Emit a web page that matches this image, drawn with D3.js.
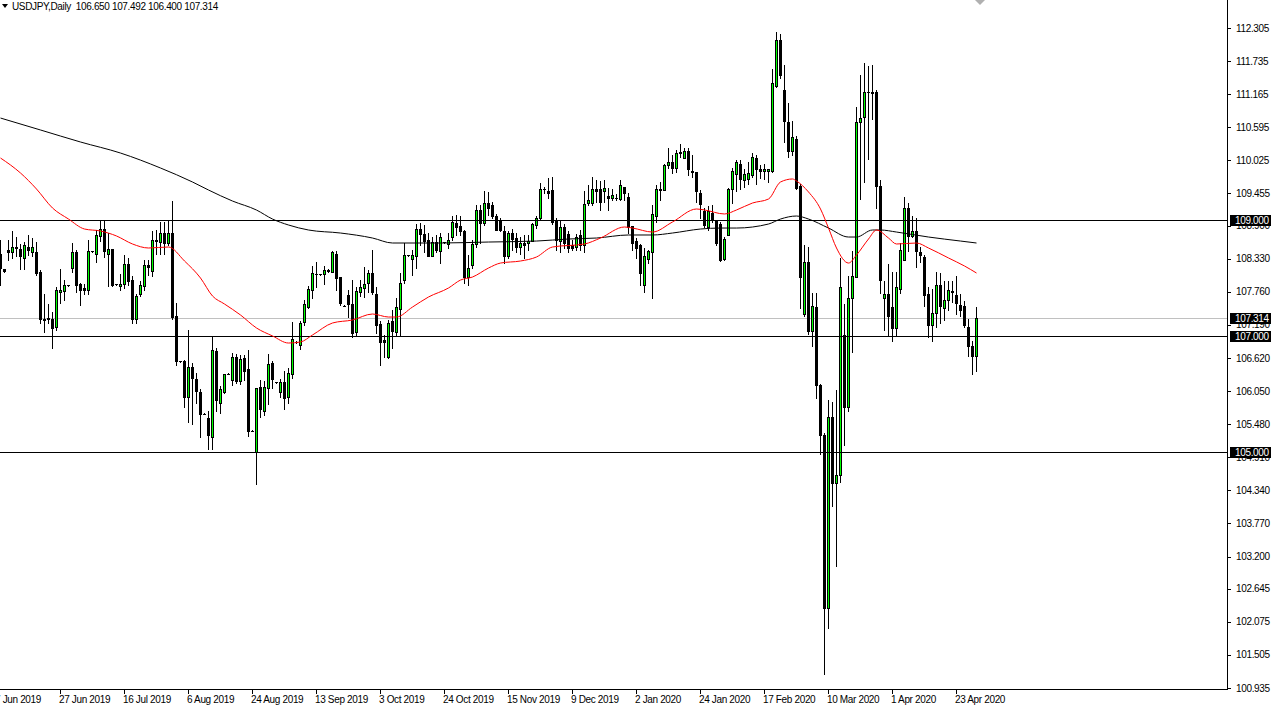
<!DOCTYPE html>
<html><head><meta charset="utf-8">
<script src="https://cdn.jsdelivr.net/npm/d3@7"></script>
<style>
body{margin:0;background:#fff;}
svg{display:block;}
text{font-family:"Liberation Sans",Arial,sans-serif;font-size:10px;letter-spacing:-0.35px;}
</style>
</head><body>
<svg id="chart" width="1273" height="710"></svg>
<script>
// ---------------- DATA ----------------
const symbolTitle = "USDJPY,Daily  106.650 107.492 106.400 107.314";

const opens = [
108.42,108.15,108.48,108.44,108.53,108.49,108.34,108.53,108.45,108.45,
108.10,107.28,107.31,107.29,107.16,107.76,107.78,107.87,108.165,108.45,
107.89,107.82,107.79,108.46,108.41,108.73,108.85,108.42,108.49,107.89,
107.86,107.90,108.24,107.96,107.30,107.72,107.86,108.22,108.125,108.64,
108.62,108.78,108.595,108.77,107.34,106.56,106.56,105.94,106.46,106.26,
106.04,105.66,105.58,105.26,106.74,105.85,106.04,106.35,106.24,106.63,
106.22,106.615,106.43,105.37,105.00,106.12,105.71,106.10,106.53,106.20,
106.03,106.20,105.94,106.35,106.90,106.85,107.24,107.50,107.80,108.07,
108.06,108.07,108.14,108.11,108.42,108.01,107.52,107.71,107.55,107.06,
107.75,107.82,107.92,108.08,107.73,107.20,106.93,106.64,107.26,107.06,
107.46,107.96,108.39,108.33,108.38,108.85,108.76,108.65,108.38,108.61,
108.47,108.61,108.58,108.71,108.95,108.89,108.81,108.02,108.22,108.59,
109.17,108.94,109.29,109.26,109.06,109.00,108.80,108.38,108.77,108.68,
108.54,108.60,108.60,108.64,108.91,109.03,109.54,109.50,109.51,108.98,
108.64,108.87,108.76,108.57,108.54,108.74,108.57,109.29,109.29,109.54,
109.53,109.50,109.41,109.38,109.38,109.36,109.56,109.40,108.90,108.63,
108.57,107.88,108.33,108.45,109.06,109.51,109.51,109.95,109.99,109.89,
110.15,110.07,110.19,109.84,109.83,109.47,109.15,108.88,109.11,108.98,
108.92,108.33,108.74,109.53,109.79,109.97,109.68,109.70,109.78,110.06,
109.88,109.85,109.85,109.85,111.31,112.09,111.24,110.68,110.19,110.39,
109.58,107.37,108.28,107.09,107.50,106.15,105.30,102.32,105.61,104.47,
104.60,107.01,105.77,107.65,108.02,110.68,110.77,111.21,111.20,111.20,
109.59,107.66,107.72,107.50,107.14,107.81,108.31,109.20,108.73,108.80,
108.44,108.36,107.73,107.19,107.39,107.88,107.48,107.62,107.75,107.70,
107.53,107.52,107.16,106.83,106.650];

const highs = [
108.65,108.16,108.65,108.81,108.70,108.59,108.61,108.74,108.68,108.62,
108.14,107.73,107.55,107.42,107.85,108.16,107.96,107.88,108.60,108.48,
107.91,107.90,108.65,108.47,108.82,109.00,109.00,108.77,108.50,107.90,
108.06,108.39,108.35,108.03,107.73,107.94,108.31,108.30,108.80,108.82,
108.96,108.96,109.00,109.32,107.57,106.57,106.58,107.10,106.53,106.36,
106.09,105.67,105.70,106.99,106.79,106.13,106.35,106.36,106.70,106.69,
106.67,106.67,106.75,105.38,106.11,106.24,106.22,106.69,106.56,106.21,
106.26,106.40,106.44,107.24,106.92,107.25,107.62,107.86,108.21,108.28,
108.07,108.20,108.15,108.46,108.47,108.02,107.53,107.79,107.96,107.85,
107.96,108.19,108.14,108.48,107.85,107.25,107.02,107.28,107.45,107.65,
108.08,108.60,108.40,108.48,108.93,108.94,108.91,108.77,108.71,108.74,
108.77,108.62,108.77,109.06,109.08,109.06,108.83,108.40,108.65,109.26,
109.26,109.49,109.48,109.31,109.10,109.03,108.89,108.80,108.84,108.77,
108.71,108.74,108.74,108.94,109.06,109.63,109.57,109.72,109.74,109.03,
108.98,108.93,108.80,108.65,108.75,108.83,109.49,109.60,109.73,109.69,
109.67,109.69,109.55,109.54,109.44,109.69,109.57,109.47,108.90,108.68,
108.59,108.51,108.48,109.26,109.60,109.66,109.97,110.23,110.12,110.20,
110.30,110.23,110.23,110.12,109.83,109.51,109.20,109.23,109.26,108.98,
108.96,108.71,109.55,109.89,110.03,110.03,109.87,109.99,110.15,110.12,
109.94,109.97,109.88,111.60,112.23,112.21,111.67,111.02,110.71,110.44,
109.61,108.57,108.53,107.74,107.74,106.18,105.32,105.89,105.86,106.07,
108.35,107.55,108.04,108.46,110.95,111.50,111.71,111.65,111.67,111.24,
109.68,107.95,108.24,108.10,108.10,108.60,109.40,109.29,109.07,109.03,
108.53,108.39,107.84,107.81,108.10,108.08,107.95,107.95,107.95,108.04,
107.73,107.61,107.30,106.91,107.492];

const lows = [
107.88,108.11,108.31,108.35,108.37,108.16,108.16,108.39,108.37,108.05,
107.22,107.06,107.22,106.79,107.10,107.56,107.62,107.86,108.11,107.76,
107.53,107.73,107.73,108.45,108.28,108.64,108.36,107.86,107.86,107.88,
107.79,107.82,107.88,107.22,107.22,107.68,107.79,108.05,108.03,108.42,
108.42,108.42,108.57,107.29,106.50,106.55,105.78,105.52,105.49,105.84,
105.26,105.65,105.06,105.06,105.70,105.68,106.01,106.34,106.15,106.19,
106.17,106.24,105.27,105.36,104.45,105.60,105.64,105.83,106.10,106.19,
105.94,105.75,105.85,106.27,106.88,106.77,107.19,107.48,107.65,107.85,
108.05,107.90,108.10,108.10,107.79,107.53,107.51,107.33,106.99,107.02,
107.68,107.67,107.76,107.73,107.05,106.50,106.64,106.62,106.79,107.02,
107.02,107.91,108.38,108.05,108.17,108.57,108.45,108.37,108.37,108.45,
108.25,108.60,108.51,108.65,108.74,108.74,107.91,107.88,108.17,108.54,
108.60,108.91,109.08,109.03,108.82,108.81,108.25,108.34,108.48,108.45,
108.42,108.34,108.48,108.63,108.86,109.02,109.46,109.37,108.92,108.48,
108.45,108.51,108.45,108.48,108.48,108.48,108.45,109.26,109.26,109.31,
109.17,109.31,109.17,109.34,109.34,109.34,109.34,108.77,108.48,108.34,
107.88,107.76,108.25,107.65,108.97,109.34,109.51,109.89,109.80,109.83,
110.09,110.06,109.77,109.74,109.31,109.03,108.88,108.83,108.97,108.57,
108.29,108.30,108.74,109.29,109.50,109.53,109.56,109.61,109.74,109.61,
109.72,109.70,109.65,109.83,111.29,111.45,110.34,110.08,110.12,109.54,
107.48,107.34,107.03,106.83,105.93,104.96,101.17,101.97,104.07,103.04,
104.49,105.12,105.71,106.72,108.02,109.36,109.65,110.05,110.73,109.20,
107.74,107.10,107.01,106.91,107.01,107.74,108.30,108.46,108.71,108.18,
108.28,107.51,106.98,106.91,107.16,107.23,107.27,107.45,107.59,107.37,
107.34,107.16,106.65,106.35,106.400];

const closes = [
108.17,108.12,108.45,108.53,108.51,108.38,108.57,108.48,108.53,108.09,
107.30,107.30,107.30,107.13,107.79,107.80,107.87,107.87,108.44,107.87,
107.80,107.79,108.46,108.46,108.74,108.85,108.46,108.49,107.88,107.89,
107.90,108.24,107.95,107.30,107.68,107.87,108.22,108.18,108.65,108.65,
108.78,108.595,108.77,107.33,106.56,106.56,105.94,106.46,106.27,106.06,
105.66,105.66,105.29,106.76,105.90,106.08,106.34,106.35,106.63,106.23,
106.61,106.40,105.37,105.37,106.10,105.74,106.12,106.51,106.25,106.20,
106.20,105.93,106.37,106.95,106.90,107.23,107.55,107.81,108.08,108.06,
108.06,108.14,108.12,108.45,108.00,107.56,107.52,107.55,107.05,107.78,
107.84,107.89,108.08,107.75,107.18,106.90,106.89,107.22,107.08,107.49,
107.92,108.39,108.39,108.39,108.85,108.75,108.64,108.38,108.61,108.48,
108.70,108.61,108.66,108.97,108.88,108.80,108.02,108.17,108.58,109.17,
108.94,109.29,109.21,109.06,108.83,108.83,108.38,108.77,108.67,108.53,
108.60,108.57,108.64,108.92,109.03,109.53,109.54,109.46,108.97,108.65,
108.87,108.60,108.52,108.51,108.70,108.57,109.27,109.34,109.54,109.49,
109.31,109.55,109.37,109.43,109.38,109.60,109.46,108.88,108.60,108.52,
108.08,108.37,108.46,109.10,109.53,109.54,109.95,109.99,109.89,110.15,
110.17,110.19,109.87,109.82,109.49,109.27,108.91,109.15,109.00,108.60,
108.31,108.67,109.53,109.84,109.99,109.70,109.79,109.81,110.08,109.87,
109.85,109.87,109.87,111.35,112.09,111.49,110.71,110.19,110.42,109.55,
108.02,108.28,107.09,107.51,106.15,105.30,102.32,105.61,104.47,104.60,
107.84,105.77,107.66,108.04,110.68,110.75,111.20,111.20,111.19,109.58,
107.97,107.72,107.34,107.14,107.84,108.48,109.20,108.73,108.80,108.46,
108.40,107.71,107.19,107.39,107.88,107.51,107.62,107.79,107.77,107.56,
107.45,107.19,106.83,106.65,107.314];

// red moving average, read at these bar positions
const redMaIdx = [0,5,9,13,17,21,25,29,33,37,42,46,50,53,56,60,64,68,72,75,78,83,88,93,97,99,103,107,112,115,118,122,125,130,134,138,146,150,156,158,163,168,174,176,181,184,188,192,195,198,199,202,205,207,209,212,214,217,219,222,224,229,232,237,241,244];
const redMaVals = [110.065,109.807,109.531,109.204,109.014,108.842,108.808,108.722,108.584,108.515,108.532,108.291,107.998,107.688,107.550,107.361,107.137,107.000,106.878,106.896,107.016,107.223,107.275,107.378,107.326,107.326,107.498,107.671,107.826,107.963,108.015,108.170,108.256,108.291,108.360,108.532,108.584,108.687,108.877,108.859,108.790,108.963,109.187,109.170,109.101,109.170,109.290,109.359,109.652,109.704,109.669,109.480,109.187,108.859,108.515,108.256,108.394,108.670,108.825,108.687,108.584,108.601,108.515,108.343,108.205,108.084];

// black moving average
const blackMaIdx = [0,10,20,30,40,48,52,58,64,68,72,77,85,93,98,110,122,134,142,149,157,163,168,175,180,184,192,195,199,202,207,212,214,218,220,224,232,240,244];
const blackMaVals = [110.754,110.548,110.341,110.151,109.893,109.652,109.514,109.324,109.169,109.014,108.911,108.825,108.773,108.687,108.601,108.601,108.618,108.635,108.670,108.687,108.739,108.739,108.773,108.842,108.859,108.859,108.928,109.014,109.066,109.014,108.859,108.704,108.704,108.825,108.825,108.790,108.704,108.635,108.601];

const priceTicks = [112.305,111.735,111.165,110.595,110.025,109.455,108.900,108.330,107.760,107.190,106.620,106.050,105.480,104.910,104.340,103.770,103.200,102.645,102.075,101.505,100.935];

const dateLabelIdx = [-1,15,31,47,63,79,95,111,127,143,159,175,191,207,223,239];
const dateLabels = ["7 Jun 2019","27 Jun 2019","16 Jul 2019","6 Aug 2019","24 Aug 2019","13 Sep 2019","3 Oct 2019","24 Oct 2019","15 Nov 2019","9 Dec 2019","2 Jan 2020","24 Jan 2020","17 Feb 2020","10 Mar 2020","1 Apr 2020","23 Apr 2020"];

const levelLines = [109.000, 107.000, 105.000];
const bidPrice = 107.314;

// ---------------- DRAW ----------------
const svg = d3.select('#chart');
const n = opens.length;
const plotW = 1227, plotH = 689;
const x = d3.scaleLinear().domain([0, n - 1]).range([0, (n - 1) * 4]);
const y = d3.scaleLinear().domain([100.935, 112.305]).range([688, 28]);
const R = v => Math.round(y(v));

svg.append('rect').attr('width', 1273).attr('height', 710).attr('fill', '#fff');
svg.append('clipPath').attr('id', 'clip').append('rect').attr('x', 0).attr('y', 0).attr('width', plotW).attr('height', plotH);

const g = svg.append('g').attr('clip-path', 'url(#clip)').attr('shape-rendering', 'crispEdges');

// bid line
g.append('line').attr('x1', 0).attr('x2', plotW).attr('y1', R(bidPrice) + 0.5).attr('y2', R(bidPrice) + 0.5)
  .attr('stroke', '#c0c0c0').attr('stroke-width', 1);

const idx = d3.range(n);
// wicks
g.selectAll('rect.wick').data(idx).join('rect').attr('class', 'wick')
  .attr('x', i => x(i)).attr('width', 1)
  .attr('y', i => R(highs[i])).attr('height', i => R(lows[i]) - R(highs[i]) + 1)
  .attr('fill', '#000');
// bodies
g.selectAll('rect.body').data(idx).join('rect').attr('class', 'body')
  .attr('x', i => x(i) - 1).attr('width', 3)
  .attr('y', i => R(Math.max(opens[i], closes[i])))
  .attr('height', i => R(Math.min(opens[i], closes[i])) - R(Math.max(opens[i], closes[i])) + 1)
  .attr('fill', '#000');
// bullish interiors
const ups = idx.filter(i => closes[i] > opens[i] && (R(opens[i]) - R(closes[i])) >= 2);
g.selectAll('rect.up').data(ups).join('rect').attr('class', 'up')
  .attr('x', i => x(i)).attr('width', 1)
  .attr('y', i => R(closes[i]) + 1)
  .attr('height', i => R(opens[i]) - R(closes[i]) - 1)
  .attr('fill', '#00ff00');

// moving averages
const lineGen = d3.line().x(d => x(d[0]) + 0.5).y(d => y(d[1])).curve(d3.curveMonotoneX);
const g2 = svg.append('g').attr('clip-path', 'url(#clip)');
g2.append('path').datum(blackMaIdx.map((d, k) => [d, blackMaVals[k]]))
  .attr('d', lineGen).attr('fill', 'none').attr('stroke', '#000').attr('stroke-width', 1);
g2.append('path').datum(redMaIdx.map((d, k) => [d, redMaVals[k]]))
  .attr('d', lineGen).attr('fill', 'none').attr('stroke', '#ff0000').attr('stroke-width', 1);

// level lines
g.selectAll('line.level').data(levelLines).join('line').attr('class', 'level')
  .attr('x1', 0).attr('x2', plotW).attr('y1', d => R(d) + 0.5).attr('y2', d => R(d) + 0.5)
  .attr('stroke', '#000').attr('stroke-width', 1);

// axes frame
const ax = svg.append('g').attr('shape-rendering', 'crispEdges');
ax.append('line').attr('x1', plotW + 0.5).attr('x2', plotW + 0.5).attr('y1', 0).attr('y2', plotH + 1).attr('stroke', '#000');
ax.append('line').attr('x1', 0).attr('x2', plotW + 1).attr('y1', plotH + 0.5).attr('y2', plotH + 0.5).attr('stroke', '#000');

// price ticks
ax.selectAll('line.pt').data(priceTicks).join('line').attr('class', 'pt')
  .attr('x1', plotW + 1).attr('x2', plotW + 4).attr('y1', d => R(d) + 0.5).attr('y2', d => R(d) + 0.5).attr('stroke', '#000');
svg.selectAll('text.pl').data(priceTicks).join('text').attr('class', 'pl')
  .attr('x', 1236).attr('y', d => y(d) + 3.5).attr('fill', '#000').text(d => d.toFixed(3));

// level & bid labels
const tags = levelLines.concat([bidPrice]);
const tg = svg.append('g');
tg.selectAll('rect').data(tags).join('rect')
  .attr('x', 1230).attr('width', 41).attr('y', d => R(d) - 5).attr('height', 11).attr('fill', '#000');
tg.selectAll('text').data(tags).join('text')
  .attr('x', 1235).attr('y', d => R(d) + 4).attr('fill', '#fff').text(d => d.toFixed(3));

// date ticks & labels
ax.selectAll('line.dt').data(dateLabelIdx).join('line').attr('class', 'dt')
  .attr('x1', d => x(d) + 0.5).attr('x2', d => x(d) + 0.5).attr('y1', plotH + 1).attr('y2', plotH + 5).attr('stroke', '#000');
svg.selectAll('text.dl').data(dateLabelIdx).join('text').attr('class', 'dl')
  .attr('x', d => x(d) - 1).attr('y', 703).attr('fill', '#000').text((d, k) => dateLabels[k]);

// header
svg.append('path').attr('d', 'M2,4 L8,4 L5,8 Z').attr('fill', '#000');
svg.append('text').attr('x', 12).attr('y', 10).attr('fill', '#000').style('white-space', 'pre').text(symbolTitle);

// chart shift marker
svg.append('path').attr('d', 'M975,0 L985,0 L980,5 Z').attr('fill', '#b0b0b0');
</script>
</body></html>
